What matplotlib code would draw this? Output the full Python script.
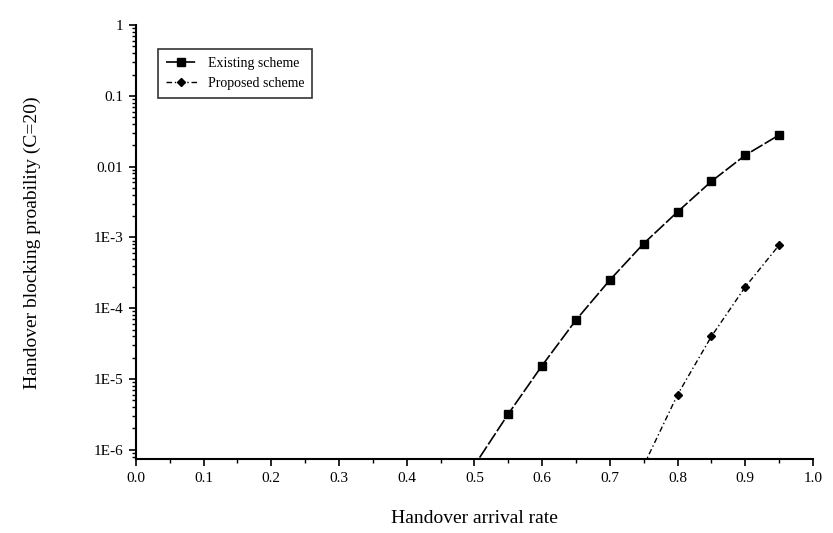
import matplotlib.pyplot as plt
import numpy as np
from matplotlib.ticker import FixedLocator, LogLocator, NullFormatter, MultipleLocator

plt.rcParams['font.family'] = ['Liberation Serif', 'DejaVu Serif']

# Data (values below 1E-6 fall off the bottom of the axis)
arrival_rate = [0.0, 0.1, 0.2, 0.3, 0.4, 0.5, 0.55, 0.6, 0.65, 0.7, 0.75, 0.8, 0.85, 0.9, 0.95]
existing = [7.3e-7, 7.3e-7, 7.3e-7, 7.3e-7, 7.3e-7, 6.0e-7, 3.2e-6, 1.55e-5, 6.8e-5, 2.5e-4,
            8.2e-4, 2.3e-3, 6.2e-3, 1.45e-2, 2.8e-2]
proposed_rate = [0.75, 0.8, 0.85, 0.9, 0.95]
proposed = [6.0e-7, 6.0e-6, 4.0e-5, 2.0e-4, 7.8e-4]

y_ticks = [1e-6, 1e-5, 1e-4, 1e-3, 1e-2, 1e-1, 1]
y_labels = ['1E-6', '1E-5', '1E-4', '1E-3', '0.01', '0.1', '1']
x_ticks = [0.0, 0.1, 0.2, 0.3, 0.4, 0.5, 0.6, 0.7, 0.8, 0.9, 1.0]
x_labels = ['0.0', '0.1', '0.2', '0.3', '0.4', '0.5', '0.6', '0.7', '0.8', '0.9', '1.0']

fig = plt.figure(figsize=(8.33, 5.33), dpi=100)
ax = fig.add_axes([0.163, 0.138, 0.813, 0.815])

ax.plot(arrival_rate, existing, color='black', linewidth=1.2, linestyle=(0, (8, 1.5)),
        marker='s', markersize=5.5, markevery=list(range(6, len(arrival_rate))),
        label='Existing scheme')
ax.plot(proposed_rate, proposed, color='black', linewidth=1.0, linestyle=(0, (4, 2, 1, 2)),
        marker='D', markersize=4.5, markevery=[1, 2, 3, 4],
        label='Proposed scheme')

ax.set_yscale('log')
ax.set_ylim(7.3e-7, 1)
ax.set_xlim(0.0, 1.0)
ax.yaxis.set_major_locator(FixedLocator(y_ticks))
ax.set_yticklabels(y_labels)
ax.yaxis.set_minor_locator(LogLocator(base=10, subs=np.arange(2, 10)))
ax.yaxis.set_minor_formatter(NullFormatter())
ax.set_xticks(x_ticks)
ax.set_xticklabels(x_labels)
ax.xaxis.set_minor_locator(MultipleLocator(0.05))

ax.tick_params(axis='both', which='major', labelsize=11, length=5, width=1.2)
ax.tick_params(axis='x', which='major', pad=4)
ax.tick_params(axis='y', which='major', pad=4)
ax.tick_params(axis='both', which='minor', length=3, width=1)

ax.spines['right'].set_visible(False)
ax.spines['top'].set_visible(False)
ax.spines['left'].set_linewidth(1.5)
ax.spines['bottom'].set_linewidth(1.5)

ax.set_xlabel('Handover arrival rate', fontsize=14, labelpad=18)
ax.set_ylabel('Handover blocking proability (C=20)', fontsize=14, labelpad=38)

leg = ax.legend(loc='upper left', bbox_to_anchor=(0.022, 0.962), fontsize=10,
                frameon=True, fancybox=False, edgecolor='black', handlelength=2.2,
                borderpad=0.6, labelspacing=0.5)
leg.get_frame().set_linewidth(1.2)

fig.savefig('out.png', dpi=100, facecolor='white')
